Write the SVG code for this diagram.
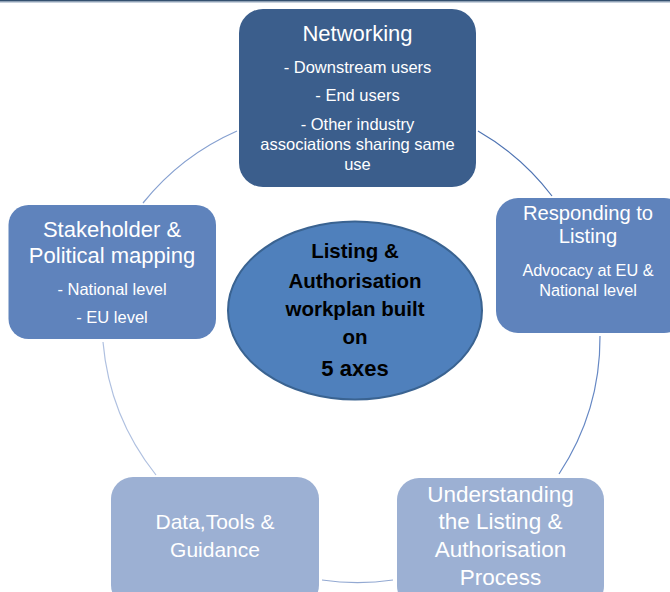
<svg xmlns="http://www.w3.org/2000/svg" width="670" height="592" viewBox="0 0 670 592">
<style>
  .t { font-family: "Liberation Sans", Arial, sans-serif; fill: #FFFFFF; text-anchor: middle; }
  .c { font-family: "Liberation Sans", Arial, sans-serif; fill: #000000; text-anchor: middle; font-weight: bold; }
  .arc { fill: none; stroke-width: 1.2; }
</style>
<rect x="0" y="0" width="670" height="592" fill="#FFFFFF"/>
<rect x="0" y="0" width="670" height="1.6" fill="#34506F"/>
<rect x="0" y="1.6" width="670" height="1" fill="#A3B3C7"/>

<g id="connectors">
  <path class="arc" stroke="#4F74B3" d="M 478 131 A 248 248 0 0 1 552 196"/>
  <path class="arc" stroke="#6688C4" d="M 600 336 A 248 248 0 0 1 559 474"/>
  <path class="arc" stroke="#93A9D2" d="M 393 580 A 248 248 0 0 1 322 580"/>
  <path class="arc" stroke="#AFC0E0" d="M 156 475 A 248 248 0 0 1 103 342"/>
  <path class="arc" stroke="#86A0D0" d="M 143 203 A 248 248 0 0 1 237 131"/>
</g>

<g id="center">
  <ellipse cx="355" cy="310.5" rx="127" ry="89" fill="#4F80BC" stroke="#3A6391" stroke-width="2"/>
  <text class="c" x="355" y="258" font-size="20.5">Listing &amp;</text>
  <text class="c" x="355" y="288" font-size="20.5">Authorisation</text>
  <text class="c" x="355" y="316" font-size="20.5">workplan built</text>
  <text class="c" x="355" y="344" font-size="20.5">on</text>
  <text class="c" x="355" y="376" font-size="22">5 axes</text>
</g>

<g id="networking">
  <rect x="239" y="9" width="237" height="178" rx="24" ry="24" fill="#3B5E8C"/>
  <text class="t" x="357.5" y="41" font-size="22">Networking</text>
  <text class="t" x="357.5" y="73" font-size="16.5">- Downstream users</text>
  <text class="t" x="357.5" y="101" font-size="16.5">- End users</text>
  <text class="t" x="357.5" y="130" font-size="16.5">- Other industry</text>
  <text class="t" x="357.5" y="150" font-size="16.5">associations sharing same</text>
  <text class="t" x="357.5" y="170" font-size="16.5">use</text>
</g>

<g id="responding">
  <rect x="496" y="198" width="190" height="135" rx="22" ry="22" fill="#5F83BC"/>
  <text class="t" x="588" y="220" font-size="20.2">Responding to</text>
  <text class="t" x="588" y="243" font-size="20.2">Listing</text>
  <text class="t" x="588" y="276" font-size="16.3">Advocacy at EU &amp;</text>
  <text class="t" x="588" y="296" font-size="16.3">National level</text>
</g>

<g id="understanding">
  <rect x="397" y="478" width="207" height="130" rx="22" ry="22" fill="#9CB0D3"/>
  <text class="t" x="500.5" y="502" font-size="22.5">Understanding</text>
  <text class="t" x="500.5" y="529" font-size="22.5">the Listing &amp;</text>
  <text class="t" x="500.5" y="557" font-size="22.5">Authorisation</text>
  <text class="t" x="500.5" y="585" font-size="22.5">Process</text>
</g>

<g id="data">
  <rect x="111" y="477" width="208" height="130" rx="22" ry="22" fill="#9CB0D3"/>
  <text class="t" x="215" y="529" font-size="21">Data,Tools &amp;</text>
  <text class="t" x="215" y="557" font-size="21">Guidance</text>
</g>

<g id="stakeholder">
  <rect x="8.5" y="205" width="207.5" height="134" rx="20" ry="20" fill="#5F83BC"/>
  <text class="t" x="112" y="237" font-size="22">Stakeholder &amp;</text>
  <text class="t" x="112" y="263" font-size="22">Political mapping</text>
  <text class="t" x="112" y="295" font-size="16.5">- National level</text>
  <text class="t" x="112" y="323" font-size="16.5">- EU level</text>
</g>
</svg>
